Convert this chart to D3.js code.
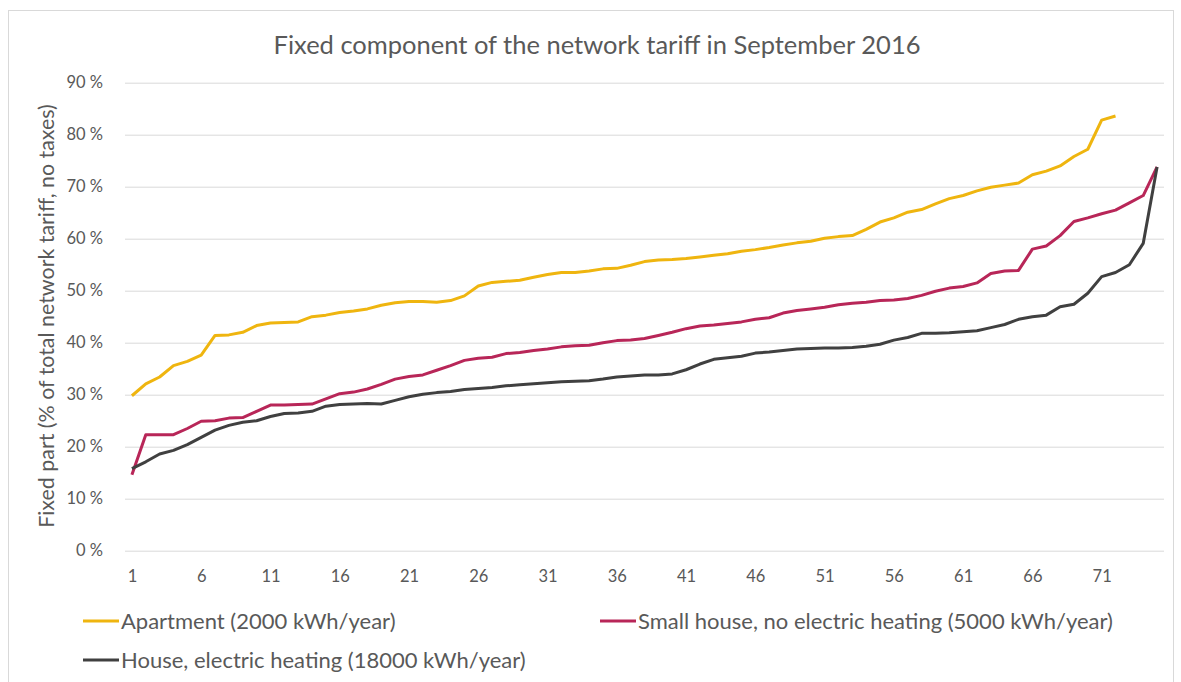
<!DOCTYPE html>
<html>
<head>
<meta charset="utf-8">
<script src="https://cdn.jsdelivr.net/npm/d3@7"></script>
<style>
  body { margin: 0; background: #fff; }
  svg { display: block; font-family: Lato, "Open Sans", sans-serif; }
</style>
</head>
<body>
<div id="chart"></div>
<script>
// rank of each network operator, 1..75
var categories = d3.range(1, 76);
var xTicks = [1, 6, 11, 16, 21, 26, 31, 36, 41, 46, 51, 56, 61, 66, 71];
var yTicks = [0, 0.1, 0.2, 0.3, 0.4, 0.5, 0.6, 0.7, 0.8, 0.9];

var apartment = [
  29.8, 32.1, 33.4, 35.6, 36.4, 37.6, 41.4, 41.5, 42.0, 43.3,
  43.8, 43.9, 44.0, 45.0, 45.3, 45.8, 46.1, 46.5, 47.2, 47.7,
  47.9, 47.9, 47.8, 48.1, 49.0, 50.9, 51.6, 51.8, 52.0, 52.6,
  53.1, 53.5, 53.5, 53.8, 54.2, 54.3, 54.9, 55.6, 55.9, 56.0,
  56.2, 56.5, 56.8, 57.1, 57.6, 57.9, 58.3, 58.8, 59.2, 59.5,
  60.1, 60.4, 60.6, 61.8, 63.2, 64.0, 65.1, 65.6, 66.7, 67.7,
  68.3, 69.2, 69.9, 70.3, 70.7, 72.3, 73.0, 74.0, 75.8, 77.2,
  82.8, 83.6
];
var smallHouse = [
  14.6, 22.3, 22.3, 22.3, 23.5, 24.9, 25.0, 25.5, 25.6, 26.8,
  28.0, 28.0, 28.1, 28.2, 29.2, 30.2, 30.5, 31.1, 32.0, 33.0,
  33.5, 33.8, 34.7, 35.6, 36.6, 37.0, 37.2, 37.9, 38.1, 38.5,
  38.8, 39.2, 39.4, 39.5, 40.0, 40.4, 40.5, 40.8, 41.4, 42.0,
  42.7, 43.2, 43.4, 43.7, 44.0, 44.5, 44.8, 45.7, 46.2, 46.5,
  46.8, 47.3, 47.6, 47.8, 48.1, 48.2, 48.5, 49.1, 49.9, 50.5,
  50.8, 51.5, 53.3, 53.8, 53.9, 58.0, 58.6, 60.6, 63.3, 64.0,
  64.8, 65.5, 66.9, 68.3, 73.8
];
var houseElectric = [
  15.8, 17.1, 18.6, 19.3, 20.4, 21.8, 23.2, 24.1, 24.7, 25.0,
  25.8, 26.4, 26.5, 26.8, 27.8, 28.1, 28.2, 28.3, 28.2, 28.9,
  29.6, 30.1, 30.4, 30.6, 31.0, 31.2, 31.4, 31.7, 31.9, 32.1,
  32.3, 32.5, 32.6, 32.7, 33.0, 33.4, 33.6, 33.8, 33.8, 34.0,
  34.8, 35.9, 36.8, 37.1, 37.4, 38.0, 38.2, 38.5, 38.8, 38.9,
  39.0, 39.0, 39.1, 39.3, 39.7, 40.5, 41.0, 41.8, 41.8, 41.9,
  42.1, 42.3, 42.9, 43.5, 44.5, 45.0, 45.3, 46.9, 47.4, 49.5,
  52.7, 53.5, 55.0, 59.1, 73.8
];

var series = [
  { name: "Apartment (2000 kWh/year)", values: apartment, color: "#efb50f" },
  { name: "Small house, no electric heating (5000 kWh/year)", values: smallHouse, color: "#b82658" },
  { name: "House, electric heating (18000 kWh/year)", values: houseElectric, color: "#404040" }
];

var W = 1181, H = 682;
var textColor = "#595959";

var svg = d3.select("#chart").append("svg")
    .attr("width", W)
    .attr("height", H);

// chart frame
svg.append("rect")
    .attr("x", 8.5).attr("y", 10.5)
    .attr("width", 1165).attr("height", 700)
    .style("fill", "none")
    .style("stroke", "#d9d9d9");

var x = d3.scalePoint()
    .domain(categories)
    .range([125, 1164])
    .padding(0.5);

var y = d3.scaleLinear()
    .domain([0, 0.9])
    .range([550.7, 82.7]);

// y axis with gridlines
var yAxis = svg.append("g")
    .attr("transform", "translate(125,0)")
    .call(d3.axisLeft(y)
      .tickValues(yTicks)
      .tickSize(-(1164 - 125))
      .tickPadding(22)
      .tickFormat(d => Math.round(d * 100) + " %"));
yAxis.select(".domain").remove();
yAxis.selectAll("line").style("stroke", "#d9d9d9").style("stroke-width", 1);
yAxis.selectAll("text")
    .style("fill", textColor)
    .style("font-size", "16.5px")
    .style("font-family", "Lato, sans-serif");

// x axis, labels only
var xAxis = svg.append("g")
    .attr("transform", "translate(0,564)")
    .call(d3.axisBottom(x).tickValues(xTicks).tickSize(0).tickPadding(6));
xAxis.select(".domain").remove();
xAxis.selectAll("text")
    .style("fill", textColor)
    .style("font-size", "16.5px")
    .style("font-family", "Lato, sans-serif");

// lines
var line = d3.line()
    .x((d, i) => x(categories[i]))
    .y(d => y(d / 100));

svg.selectAll(".series")
    .data(series)
    .enter()
    .append("path")
    .attr("class", "series")
    .attr("d", s => line(s.values))
    .style("fill", "none")
    .style("stroke", s => s.color)
    .style("stroke-width", 3)
    .style("stroke-linejoin", "round");

// title
svg.append("text")
    .attr("x", 597).attr("y", 54)
    .attr("text-anchor", "middle")
    .style("font-size", "25.5px")
    .style("fill", textColor)
    .text("Fixed component of the network tariff in September 2016");

// y axis title
svg.append("text")
    .attr("transform", "translate(54,316) rotate(-90)")
    .attr("text-anchor", "middle")
    .style("font-size", "21.4px")
    .style("fill", textColor)
    .text("Fixed part (% of total network tariff, no taxes)");

// legend
var legendPos = [[83, 621], [600, 621], [83, 660]];
var legend = svg.selectAll(".legend")
    .data(series)
    .enter()
    .append("g")
    .attr("class", "legend")
    .attr("transform", (s, i) => "translate(" + legendPos[i][0] + "," + legendPos[i][1] + ")");

legend.append("line")
    .attr("x1", 0).attr("x2", 36)
    .attr("y1", 0).attr("y2", 0)
    .style("stroke", s => s.color)
    .style("stroke-width", 3);

legend.append("text")
    .attr("x", 38).attr("y", 0)
    .attr("dy", "0.35em")
    .style("font-size", "22px")
    .style("fill", textColor)
    .text(s => s.name);
</script>
</body>
</html>
